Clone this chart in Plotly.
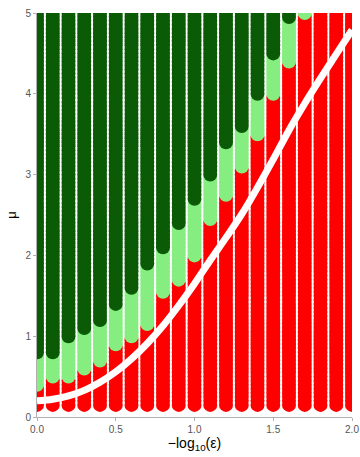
import numpy as np
import plotly.graph_objects as go

# columns: -log10(eps)
x_cols = [0.0, 0.1, 0.2, 0.3, 0.4, 0.5, 0.6, 0.7, 0.8, 0.9, 1.0,
          1.1, 1.2, 1.3, 1.4, 1.5, 1.6, 1.7, 1.8, 1.9, 2.0]
# first mu at which the column turns light green / dark green (None = never)
light_start = [0.40, 0.50, 0.50, 0.60, 0.70, 0.90, 1.00, 1.15, 1.55, 1.70, 2.00,
               2.45, 2.75, 3.10, 3.50, 4.00, 4.40, 5.00, None, None, None]
dark_start = [0.80, 0.80, 1.00, 1.10, 1.20, 1.40, 1.60, 1.90, 2.10, 2.40, 2.70,
              3.00, 3.40, 3.60, 4.00, 4.50, 4.95, None, None, None, None]
# mu grid of the sampled points
mu_grid = np.round(np.arange(0.15, 5.0001, 0.05), 2)

# white threshold curve
curve_x = [0.0, 0.1, 0.2, 0.3, 0.4, 0.5, 0.6, 0.7, 0.8, 0.9, 1.0,
           1.1, 1.2, 1.3, 1.4, 1.5, 1.6, 1.7, 1.8, 1.9, 2.0]
curve_y = [0.20, 0.22, 0.26, 0.33, 0.43, 0.56, 0.72, 0.91, 1.13, 1.38, 1.65,
           1.94, 2.22, 2.51, 2.84, 3.19, 3.55, 3.88, 4.19, 4.49, 4.79]

RED = "#FF0000"
LIGHT = "#86EE80"
DARK = "#0A5A06"

groups = {"red": ([], []), "light": ([], []), "dark": ([], [])}
for xc, ls, ds in zip(x_cols, light_start, dark_start):
    for m in mu_grid:
        if ds is not None and m >= ds - 1e-9:
            g = "dark"
        elif ls is not None and m >= ls - 1e-9:
            g = "light"
        else:
            g = "red"
        groups[g][0].append(xc)
        groups[g][1].append(m)

fig = go.Figure()
for name, col in [("red", RED), ("light", LIGHT), ("dark", DARK)]:
    xs, ys = groups[name]
    fig.add_trace(go.Scatter(x=xs, y=ys, mode="markers",
                             marker=dict(size=14, color=col, line=dict(width=0)),
                             hoverinfo="skip", showlegend=False))

fig.add_trace(go.Scatter(x=curve_x, y=curve_y, mode="lines",
                         line=dict(color="white", width=7, shape="spline"),
                         hoverinfo="skip", showlegend=False))

axis_common = dict(showgrid=False, zeroline=False, showline=True,
                   linecolor="#B0B0B0", linewidth=1, ticks="outside",
                   ticklen=3, tickcolor="#B0B0B0", automargin=False,
                   ticklabeloverflow="allow",
                   tickfont=dict(family="Liberation Sans, Arial", size=10, color="#555555"))

fig.update_layout(
    width=360, height=457,
    margin=dict(l=37, r=8, t=13, b=40),
    paper_bgcolor="white", plot_bgcolor="white",
    hovermode=False,
    xaxis=dict(range=[0, 2], tickvals=[0, 0.5, 1.0, 1.5, 2.0],
               ticktext=["0.0", "0.5", "1.0", "1.5", "2.0"],
               title=dict(text="−log<sub>10</sub>(ε)", standoff=3,
                          font=dict(family="Liberation Sans, Arial", size=14, color="black")),
               **axis_common),
    yaxis=dict(range=[0, 5], tickvals=[0, 1, 2, 3, 4, 5],
               title=dict(text="μ", standoff=5,
                          font=dict(family="Liberation Sans, Arial", size=13, color="black")),
               **axis_common),
)

# remove the default 8px page margin so the figure fills the window exactly
fig.write_html("out.html",
               config={"displayModeBar": False, "staticPlot": True},
               post_script="document.body.style.margin='0px';document.body.style.overflow='hidden';")
